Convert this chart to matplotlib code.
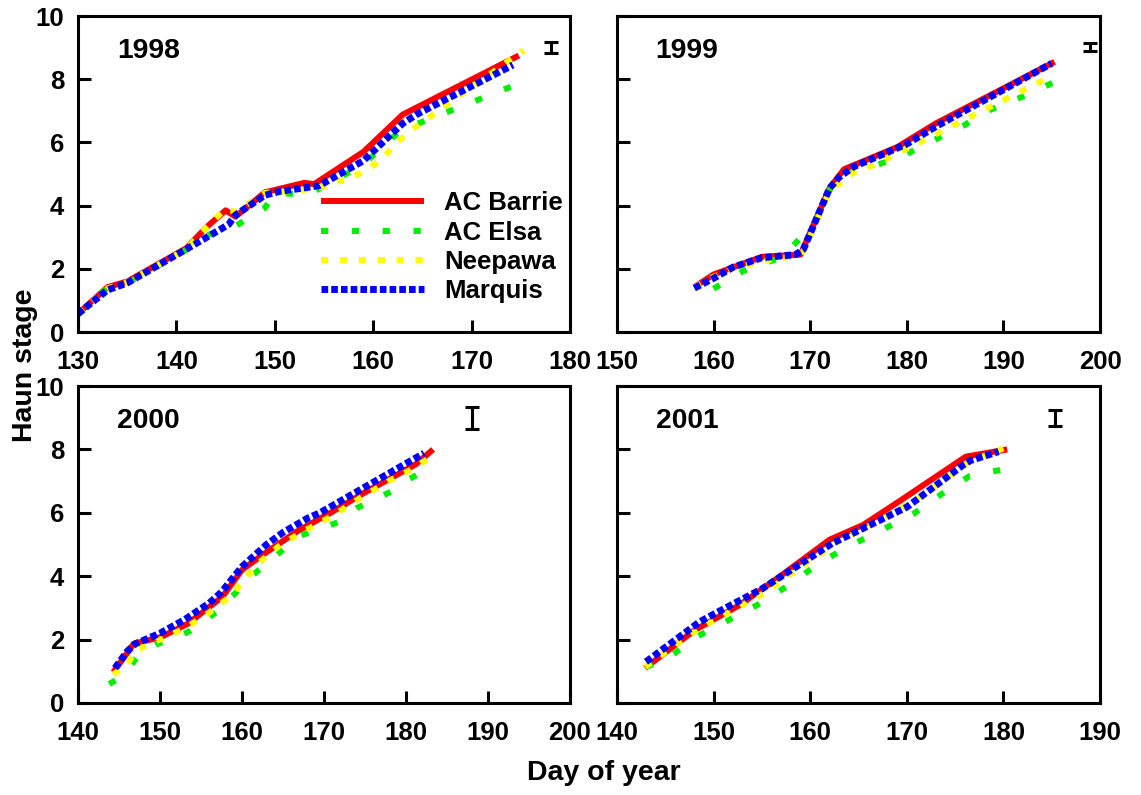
#!/usr/bin/env python3
"""
Haun stage vs day of year, four seasons, four cultivars.
"""

import matplotlib
matplotlib.use('Agg')
import matplotlib.pyplot as plt

plt.rcParams['font.family'] = ['Liberation Sans', 'DejaVu Sans']
plt.rcParams['font.weight'] = 'bold'
plt.rcParams['lines.scale_dashes'] = False

# ---- data: (day, haun stage) vertices ----
# 1998
barrie_1998_day = [130, 133, 135, 137, 139, 141, 143, 145, 146, 149, 153, 154, 159, 163, 174.8]
barrie_1998_hs = [0.58, 1.42, 1.6, 1.95, 2.3, 2.65, 3.3, 3.85, 3.65, 4.42, 4.72, 4.68, 5.7, 6.88, 8.75]
elsa_1998_day = [130, 133, 135, 141, 143, 146, 149, 150, 152, 154, 159, 163, 165, 174.3]
elsa_1998_hs = [0.55, 1.4, 1.55, 2.6, 3.05, 3.35, 3.93, 4.4, 4.37, 4.45, 5.3, 6.45, 6.65, 7.8]
neepawa_1998_day = [130, 133, 135, 141, 143, 145, 146, 149, 153, 155, 159, 161, 162.3, 164, 175.3]
neepawa_1998_hs = [0.58, 1.38, 1.58, 2.62, 3.3, 3.9, 3.8, 4.4, 4.5, 4.6, 5.05, 5.5, 5.97, 6.42, 8.92]
marquis_1998_day = [130, 133, 135, 141, 145.3, 146, 149, 150.5, 154.5, 159, 163, 164.5, 174.2]
marquis_1998_hs = [0.58, 1.33, 1.55, 2.62, 3.4, 3.7, 4.33, 4.45, 4.63, 5.42, 6.6, 6.9, 8.45]

# 1999
barrie_1999_day = [158, 160, 165, 169, 172, 173.5, 179, 183, 195.3]
barrie_1999_hs = [1.42, 1.82, 2.38, 2.45, 4.55, 5.15, 5.85, 6.6, 8.55]
elsa_1999_day = [160, 161, 163, 165, 167, 169.3, 170.5, 172, 173, 174.5, 176, 179.5, 182, 186, 188, 192, 195.2]
elsa_1999_hs = [1.37, 1.55, 1.92, 2.15, 2.35, 3.07, 3.5, 4.5, 4.76, 5.1, 5.2, 5.55, 5.95, 6.55, 6.95, 7.45, 7.9]
neepawa_1999_day = [158, 160, 162, 165, 168, 169.3, 172, 173.5, 174.5, 176.4, 180, 195]
neepawa_1999_hs = [1.42, 1.75, 2.0, 2.25, 2.38, 2.55, 4.45, 4.82, 5.05, 5.26, 5.8, 8.1]
marquis_1999_day = [158, 160, 162, 165, 168.5, 169.3, 172, 173, 174.5, 180, 183, 195]
marquis_1999_hs = [1.39, 1.7, 2.05, 2.35, 2.45, 2.62, 4.55, 4.9, 5.23, 5.95, 6.5, 8.5]

# 2000
barrie_2000_day = [144.3, 146.8, 150.1, 153.4, 157.6, 160, 162.5, 166.7, 170.8, 174.9, 181.2, 183.3]
barrie_2000_hs = [0.97, 1.87, 2.08, 2.5, 3.35, 4.2, 4.67, 5.41, 6.0, 6.63, 7.53, 8.0]
elsa_2000_day = [143.8, 145.5, 146.2, 147.2, 149.6, 153.5, 156.9, 158, 159.2, 160.1, 163.5, 167,
                 169, 171.7, 174, 176.5, 179, 180.3, 182.8]
elsa_2000_hs = [0.6, 0.85, 1.1, 1.45, 1.85, 2.25, 2.87, 3.2, 3.46, 3.77, 4.51, 5.27,
                5.45, 5.7, 6.15, 6.45, 6.78, 7.05, 7.4]
neepawa_2000_day = [144.3, 146, 147, 150, 153, 156, 158.5, 162, 164.5, 167, 171, 174, 178, 180.2, 182.8]
neepawa_2000_hs = [0.9, 1.2, 1.66, 2.0, 2.35, 2.85, 3.35, 4.41, 4.95, 5.35, 5.9, 6.4, 7.02, 7.3, 7.72]
marquis_2000_day = [144.5, 146, 147, 150, 153, 156, 157.5, 160, 163, 165, 168, 169.5, 182.2]
marquis_2000_hs = [1.1, 1.63, 1.87, 2.2, 2.63, 3.15, 3.5, 4.3, 5.0, 5.38, 5.83, 6.0, 7.88]

# 2001
barrie_2001_day = [142.9, 148, 152.7, 157.3, 162, 165.5, 169.5, 176.1, 180.4]
barrie_2001_hs = [1.1, 2.29, 3.09, 4.09, 5.15, 5.62, 6.42, 7.77, 8.0]
elsa_2001_day = [143, 145, 148.2, 151.4, 154.5, 157.8, 160.9, 164.1, 167.3, 170.7, 173.7, 176.5, 180]
elsa_2001_hs = [1.15, 1.35, 2.08, 2.59, 3.09, 3.72, 4.41, 4.96, 5.44, 5.97, 6.61, 7.16, 7.37]
neepawa_2001_day = [142.9, 146, 148, 150, 155.5, 157.3, 161.3, 163, 169, 172.7, 176.4, 180]
neepawa_2001_hs = [1.13, 1.82, 2.25, 2.6, 3.51, 3.93, 4.75, 5.1, 6.05, 6.77, 7.6, 8.03]
marquis_2001_day = [143, 148.5, 150, 155, 162.3, 170, 175.8, 176.6, 179.5]
marquis_2001_hs = [1.3, 2.55, 2.8, 3.6, 5.04, 6.18, 7.5, 7.65, 7.93]

YEARS = ['1998', '1999', '2000', '2001']
CULTIVARS = ['AC Barrie', 'AC Elsa', 'Neepawa', 'Marquis']

# LSD-type error bar shown in the corner of each panel: (day, centre, half-length)
err_day = [178.1, 199.0, 188.1, 185.3]
err_centre = [9.0, 9.02, 9.0, 9.0]
err_half = [0.18, 0.12, 0.35, 0.25]

x_limits = [(130, 180), (150, 200), (140, 200), (140, 190)]

SERIES = {
    '1998': [(barrie_1998_day, barrie_1998_hs), (elsa_1998_day, elsa_1998_hs),
             (neepawa_1998_day, neepawa_1998_hs), (marquis_1998_day, marquis_1998_hs)],
    '1999': [(barrie_1999_day, barrie_1999_hs), (elsa_1999_day, elsa_1999_hs),
             (neepawa_1999_day, neepawa_1999_hs), (marquis_1999_day, marquis_1999_hs)],
    '2000': [(barrie_2000_day, barrie_2000_hs), (elsa_2000_day, elsa_2000_hs),
             (neepawa_2000_day, neepawa_2000_hs), (marquis_2000_day, marquis_2000_hs)],
    '2001': [(barrie_2001_day, barrie_2001_hs), (elsa_2001_day, elsa_2001_hs),
             (neepawa_2001_day, neepawa_2001_hs), (marquis_2001_day, marquis_2001_hs)],
}

# line styles per cultivar (dash lengths in points)
STYLES = [
    dict(color='#ff0000', lw=4.3, dashes=None),
    dict(color='#00ee00', lw=4.3, dashes=(5.2, 17.0)),
    dict(color='#ffff00', lw=4.3, dashes=(5.2, 8.4)),
    dict(color='#0000ff', lw=5.0, dashes=(4.8, 2.2)),
]

# axes rectangles in figure fractions (left, bottom, width, height)
W, H = 1141, 795
AX_RECTS = [
    (78 / W, 1 - 332 / H, 492 / W, 316 / H),
    (617 / W, 1 - 332 / H, 483 / W, 316 / H),
    (78 / W, 1 - 703 / H, 492 / W, 317 / H),
    (617 / W, 1 - 703 / H, 483 / W, 317 / H),
]


def draw_panel(ax, idx):
    year = YEARS[idx]
    for (days, hs), name, st in zip(SERIES[year], CULTIVARS, STYLES):
        line, = ax.plot(days, hs, color=st['color'], lw=st['lw'], label=name,
                        solid_capstyle='butt', dash_capstyle='butt')
        if st['dashes'] is not None:
            line.set_dashes(st['dashes'])

    ax.errorbar([err_day[idx]], [err_centre[idx]], yerr=[err_half[idx]], fmt='none',
                ecolor='black', elinewidth=2.2, capsize=4.7, capthick=2.2)

    ax.text(0.08, 0.89, year, transform=ax.transAxes, fontsize=20.3,
            fontweight='bold', ha='left', va='center')

    ax.set_xlim(*x_limits[idx])
    ax.set_ylim(0, 10)
    ax.set_xticks(range(x_limits[idx][0], x_limits[idx][1] + 1, 10))
    ax.set_yticks(range(0, 11, 2))
    ax.tick_params(axis='both', direction='in', length=9, width=2.2,
                   labelsize=18.5, top=False, right=False)
    ax.tick_params(axis='x', pad=13)
    ax.tick_params(axis='y', pad=10)
    if idx in (1, 3):
        ax.set_yticklabels([])
    for lab in ax.get_xticklabels() + ax.get_yticklabels():
        lab.set_fontweight('bold')
    for sp in ax.spines.values():
        sp.set_linewidth(2.2)


def main():
    fig = plt.figure(figsize=(W / 100, H / 100), dpi=100)
    axes = [fig.add_axes(r) for r in AX_RECTS]
    for i, ax in enumerate(axes):
        draw_panel(ax, i)

    axes[0].legend(loc='upper right', bbox_to_anchor=(0.986, 0.445), frameon=False,
                   handlelength=4.0, handletextpad=0.8,
                   labelspacing=0.2, borderpad=0, borderaxespad=0,
                   prop={'weight': 'bold', 'size': 18.5})

    fig.text(25 / W, 1 - 365 / H, 'Haun stage', rotation=90, fontsize=20.5,
             fontweight='bold', ha='center', va='center')
    fig.text(604 / W, 1 - 773 / H, 'Day of year', fontsize=20.5,
             fontweight='bold', ha='center', va='center')

    fig.savefig('out.png', dpi=100, facecolor='white')
    plt.close(fig)


if __name__ == '__main__':
    main()
